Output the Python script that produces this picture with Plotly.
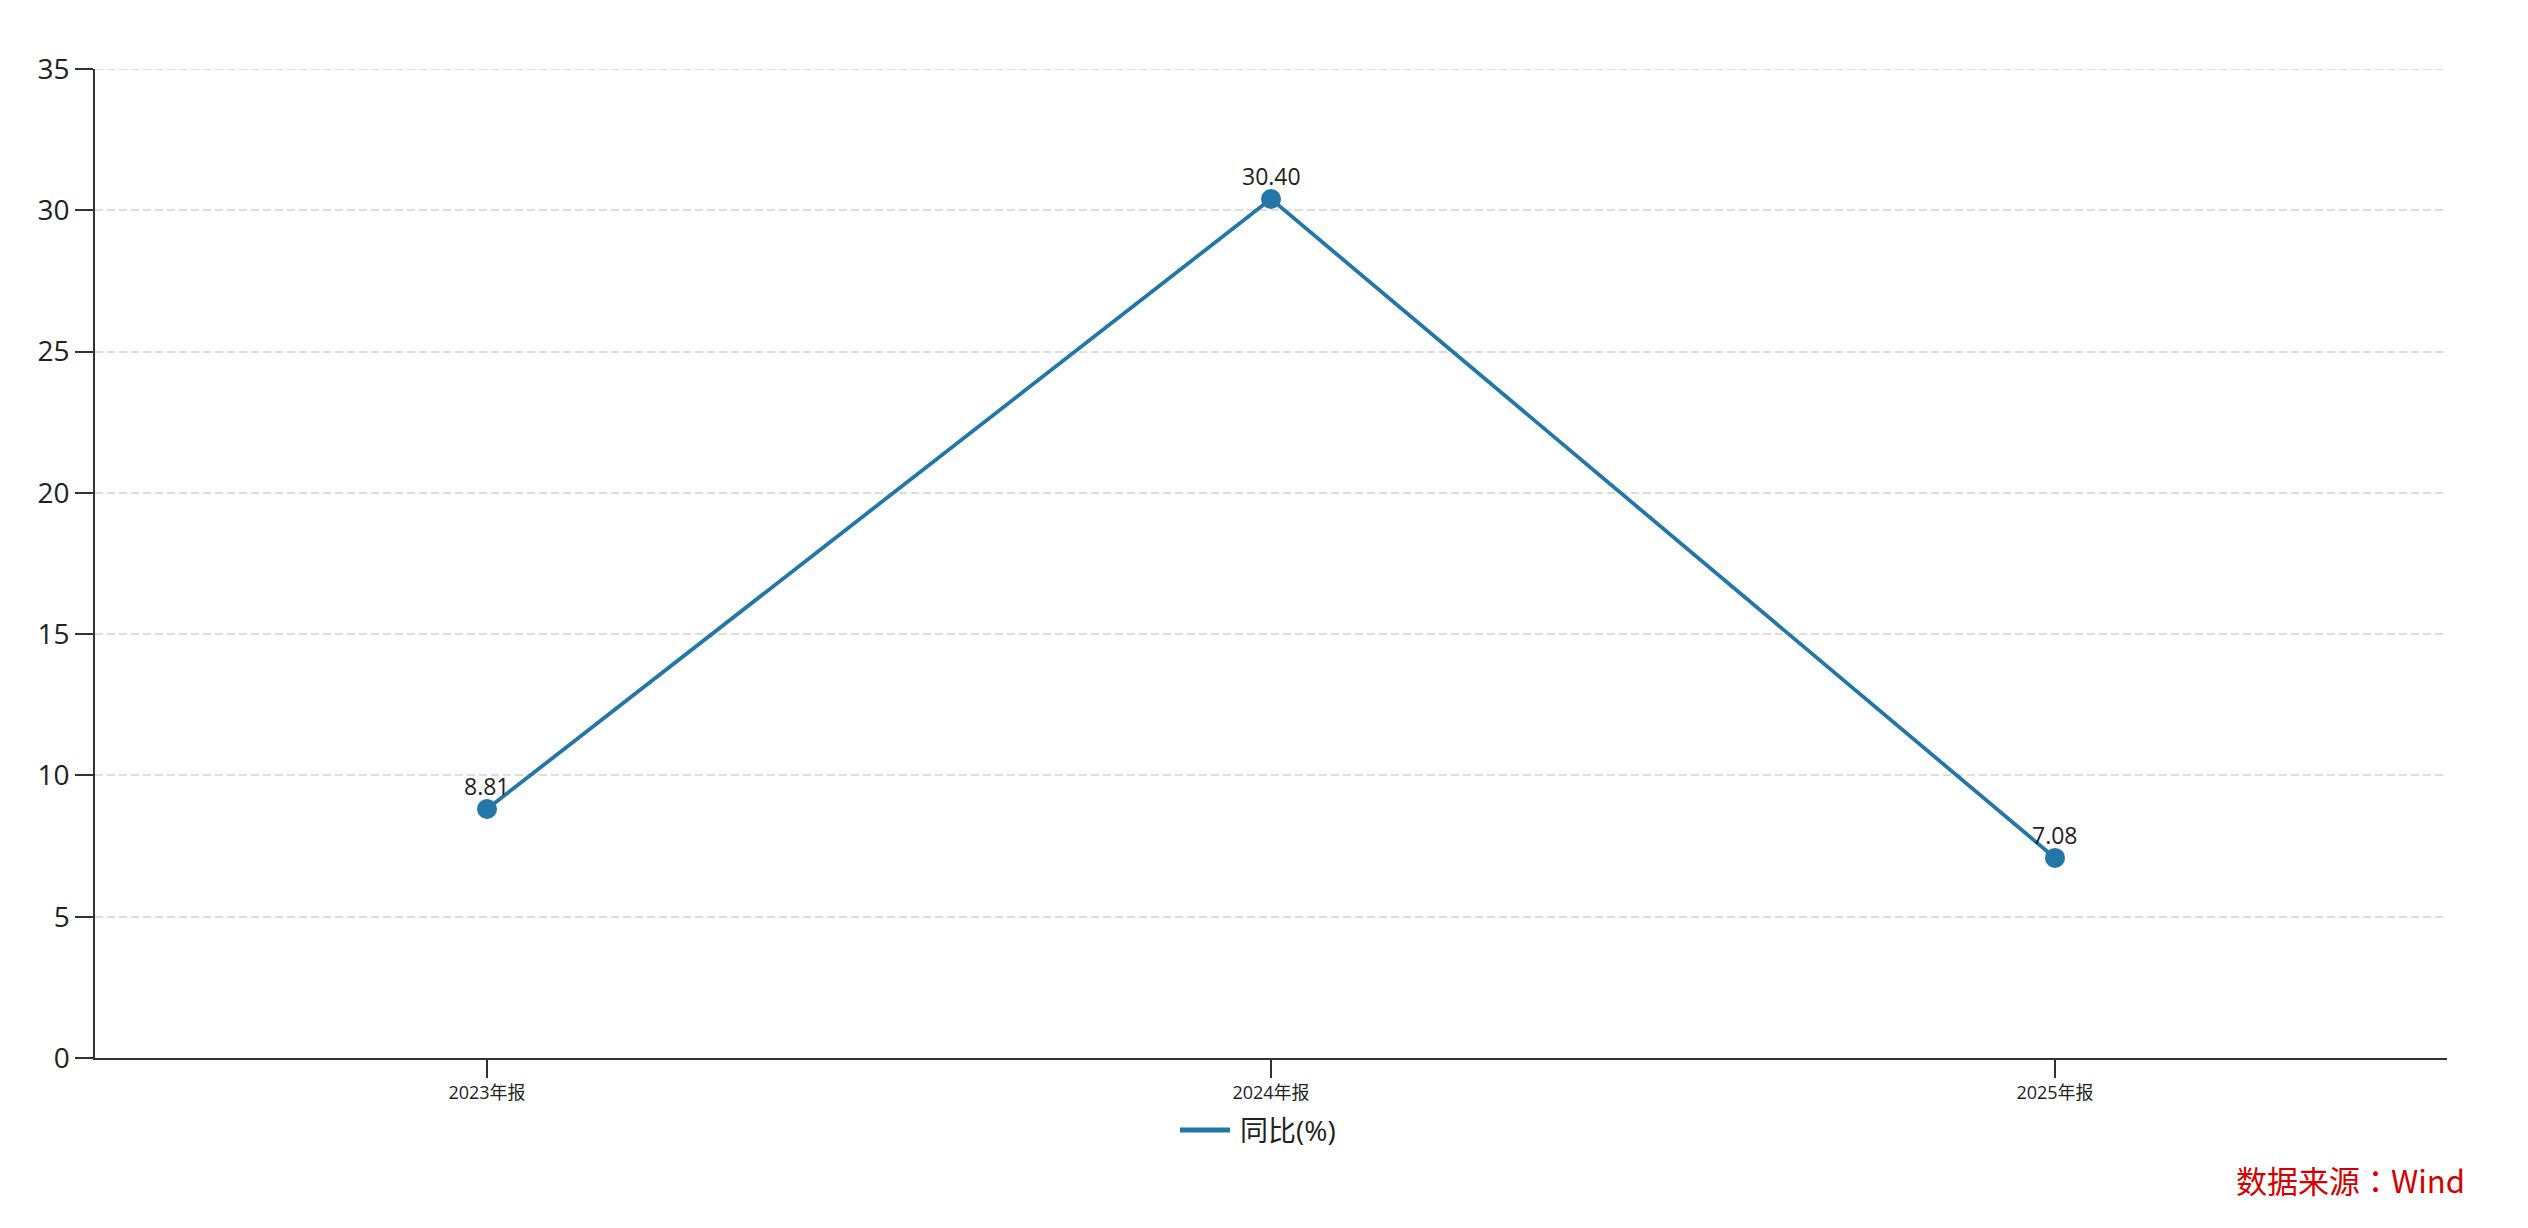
import plotly.graph_objects as go

categories = ["2023年报", "2024年报", "2025年报"]
yoy_values = [8.81, 30.40, 7.08]
value_labels = ["8.81", "30.40", "7.08"]
y_ticks = [0, 5, 10, 15, 20, 25, 30, 35]
series_name = "同比(%)"
source_text = "数据来源：Wind"

FONT = "Open Sans, Noto Sans CJK SC, sans-serif"
LINE_COLOR = "#2377a6"
GRID_DASH = "8px,4px"

fig = go.Figure()
fig.add_trace(go.Scatter(
    x=categories, y=yoy_values, name=series_name,
    mode="lines+markers",
    line=dict(color=LINE_COLOR, width=3.8),
    marker=dict(color=LINE_COLOR, size=20),
    cliponaxis=False, showlegend=False,
))

# value labels above points
annotations = []
for c, v, t in zip(categories, yoy_values, value_labels):
    annotations.append(dict(
        x=c, y=v, xref="x", yref="y", text=t, showarrow=False,
        xanchor="center", yanchor="middle", yshift=23,
        font=dict(size=23, color="#222222", family=FONT),
    ))

# manual legend (long line key + text)
annotations.append(dict(
    text=series_name, xref="paper", yref="paper", x=0.4860, y=-0.0728,
    xanchor="left", yanchor="middle", showarrow=False,
    font=dict(size=28, color="#222222", family=FONT),
))
annotations.append(dict(
    text=source_text, xref="paper", yref="paper", x=1.0085, y=-0.123,
    xanchor="right", yanchor="middle", showarrow=False,
    font=dict(size=31, color="#d40000", family="Noto Sans CJK TC, Open Sans, sans-serif"),
))

shapes = [
    # legend key
    dict(type="line", xref="paper", yref="paper", x0=0.4613, x1=0.4826,
         y0=-0.0728, y1=-0.0728, line=dict(color=LINE_COLOR, width=5)),
    # top gridline (plotly hides gridline on the range edge)
    dict(type="line", xref="paper", yref="y", x0=0, x1=1,
         y0=y_ticks[-1], y1=y_ticks[-1], layer="below",
         line=dict(color="#dddddd", width=2, dash=GRID_DASH)),
]

fig.update_layout(
    width=2512, height=1212,
    margin=dict(l=87, r=73, t=61, b=162),
    plot_bgcolor="white", paper_bgcolor="white",
    font=dict(family=FONT, color="#222222"),
    showlegend=False,
    xaxis=dict(
        type="category", range=[-0.5, 2.5],
        showline=True, linecolor="#333333", linewidth=1.5,
        ticks="outside", ticklen=18, tickcolor="#333333", tickwidth=1.5,
        tickfont=dict(size=18, family=FONT, color="#222222"),
        showgrid=False, zeroline=False, fixedrange=True,
    ),
    yaxis=dict(
        range=[0, 35], tickvals=y_ticks,
        showline=True, linecolor="#333333", linewidth=1.5,
        ticks="outside", ticklen=18, tickcolor="#333333", tickwidth=1.5,
        tickfont=dict(size=28, family=FONT, color="#222222"),
        showgrid=True, gridcolor="#dddddd", gridwidth=2, griddash=GRID_DASH,
        zeroline=False, fixedrange=True,
    ),
    annotations=annotations,
    shapes=shapes,
)

fig.write_html("out.html")
